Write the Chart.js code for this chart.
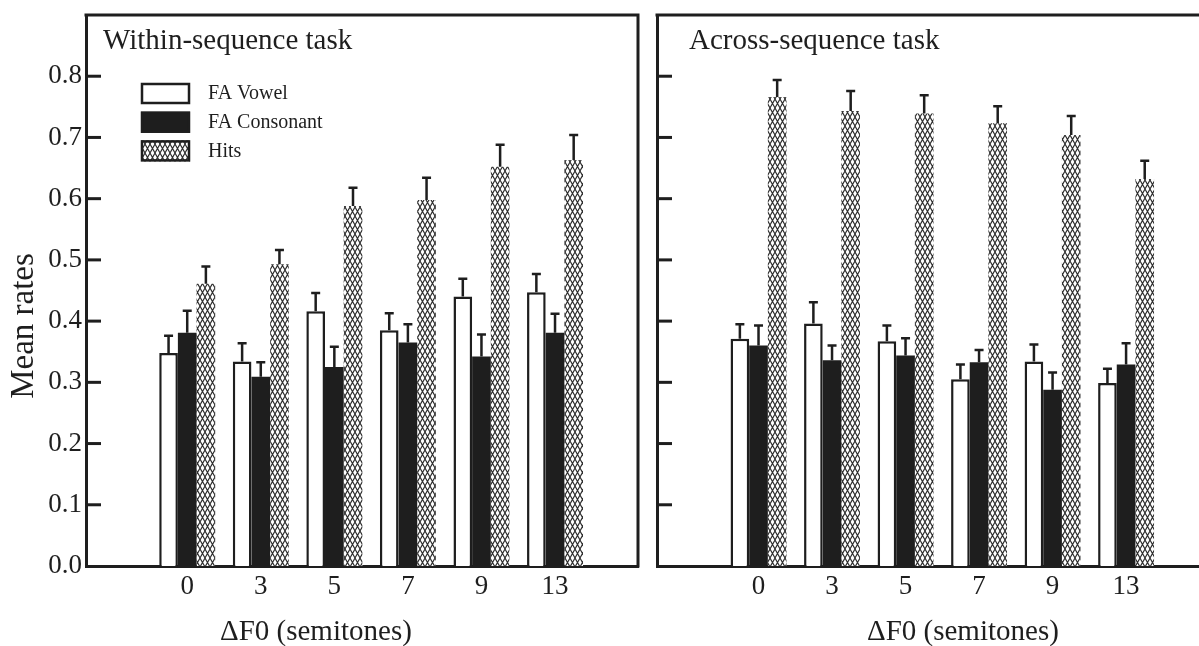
<!DOCTYPE html>
<html>
<head>
<meta charset="utf-8">
<script src="https://cdn.jsdelivr.net/npm/chart.js@4.4.1/dist/chart.umd.min.js"></script>
<style>
html, body { margin: 0; padding: 0; background: #fff; }
body { width: 1199px; height: 646px; overflow: hidden; position: relative; }
#within { position: absolute; left: 0; top: 0; }
#across { position: absolute; left: 645px; top: 0; }
</style>
</head>
<body>
<canvas id="within" width="650" height="646"></canvas>
<canvas id="across" width="580" height="646"></canvas>
<script>
// data
const categories = ['0', '3', '5', '7', '9', '13'];
const yTicks = [0.0, 0.1, 0.2, 0.3, 0.4, 0.5, 0.6, 0.7, 0.8];
const seriesNames = ['FA Vowel', 'FA Consonant', 'Hits'];

// within-sequence task
const withinVowel = [0.348, 0.334, 0.416, 0.385, 0.440, 0.447];
const withinVowelErr = [0.028, 0.030, 0.030, 0.028, 0.029, 0.030];
const withinCons = [0.381, 0.309, 0.325, 0.365, 0.342, 0.381];
const withinConsErr = [0.036, 0.024, 0.033, 0.030, 0.036, 0.031];
const withinHits = [0.461, 0.493, 0.588, 0.598, 0.652, 0.663];
const withinHitsErr = [0.028, 0.023, 0.030, 0.036, 0.036, 0.041];

// across-sequence task
const acrossVowel = [0.371, 0.396, 0.367, 0.305, 0.334, 0.299];
const acrossVowelErr = [0.024, 0.035, 0.026, 0.024, 0.028, 0.023];
const acrossCons = [0.360, 0.336, 0.344, 0.333, 0.288, 0.329];
const acrossConsErr = [0.033, 0.024, 0.028, 0.020, 0.028, 0.035];
const acrossHits = [0.766, 0.743, 0.739, 0.723, 0.704, 0.632];
const acrossHitsErr = [0.028, 0.033, 0.030, 0.028, 0.031, 0.030];

const ink = '#1e1e1e';
const serif = "'Liberation Serif', 'Times New Roman', serif";

// cross-hatch fill for the Hits bars
function makeHatch() {
    const c = document.createElement('canvas');
    c.width = 5; c.height = 9;
    const g = c.getContext('2d');
    g.fillStyle = '#fff';
    g.fillRect(0, 0, 5, 9);
    g.strokeStyle = '#2c2c2c';
    g.lineWidth = 1.1;
    g.beginPath();
    g.moveTo(0, 0); g.lineTo(5, 9);
    g.moveTo(5, 0); g.lineTo(0, 9);
    g.stroke();
    return g.createPattern(c, 'repeat');
}
const hatch = makeHatch();

function points(arr) {
    return arr.map((v, i) => ({ x: i, y: v }));
}

// box frame + inward y ticks
const framePlugin = {
    id: 'frame',
    afterDraw(chart) {
        const ctx = chart.ctx, a = chart.chartArea, ys = chart.scales.y;
        ctx.save();
        ctx.strokeStyle = ink;
        ctx.lineWidth = 3;
        ctx.beginPath();
        ctx.moveTo(a.left - 1.5, a.top);
        ctx.lineTo(a.right, a.top);
        ctx.lineTo(a.right, a.bottom + 1.5);
        ctx.stroke();
        yTicks.forEach(v => {
            if (v === 0) return;
            const y = ys.getPixelForValue(v);
            ctx.beginPath();
            ctx.moveTo(a.left, y);
            ctx.lineTo(a.left + 15, y);
            ctx.stroke();
        });
        ctx.restore();
    }
};

// upper error bars
const errorPlugin = {
    id: 'errbars',
    afterDatasetsDraw(chart) {
        const ctx = chart.ctx, ys = chart.scales.y;
        ctx.save();
        ctx.strokeStyle = ink;
        ctx.lineWidth = 2.5;
        chart.data.datasets.forEach((ds, di) => {
            const meta = chart.getDatasetMeta(di);
            meta.data.forEach((bar, i) => {
                const top = ys.getPixelForValue(ds.data[i].y + ds.errors[i]);
                ctx.beginPath();
                ctx.moveTo(bar.x, bar.y);
                ctx.lineTo(bar.x, top);
                ctx.moveTo(bar.x - 4.5, top);
                ctx.lineTo(bar.x + 4.5, top);
                ctx.stroke();
            });
        });
        ctx.restore();
    }
};

// panel titles, axis titles and legend
const textPlugin = {
    id: 'texts',
    afterDraw(chart) {
        const ctx = chart.ctx, p = chart.options.plugins.texts;
        ctx.save();
        ctx.fillStyle = ink;
        ctx.textBaseline = 'alphabetic';
        ctx.textAlign = 'left';
        ctx.font = '29px ' + serif;
        ctx.fillText(p.title, p.titleX, 49);
        ctx.fillText('\u0394F0 (semitones)', p.xTitleX, 640);
        if (p.yTitle) {
            ctx.save();
            ctx.translate(33, 326);
            ctx.rotate(-Math.PI / 2);
            ctx.textAlign = 'center';
            ctx.font = '33px ' + serif;
            ctx.fillText(p.yTitle, 0, 0);
            ctx.restore();
        }
        if (p.legend) {
            ctx.font = '20px ' + serif;
            ctx.textBaseline = 'middle';
            chart.data.datasets.forEach((ds, i) => {
                const y = 83 + i * 28.7;
                ctx.fillStyle = ds.backgroundColor;
                ctx.fillRect(141, y, 49, 21);
                ctx.strokeStyle = ink;
                ctx.lineWidth = 2.5;
                ctx.strokeRect(142, y + 1, 47, 19);
                ctx.fillStyle = ink;
                ctx.fillText(ds.label, 208, y + 11);
            });
        }
        ctx.restore();
    }
};

function makeChart(id, series, errors, o) {
    const styles = [
        { backgroundColor: '#fff', borderColor: ink, borderWidth: 2.5 },
        { backgroundColor: ink, borderWidth: 0 },
        { backgroundColor: hatch, borderWidth: 0 }
    ];
    return new Chart(document.getElementById(id), {
        type: 'bar',
        data: {
            datasets: series.map((s, i) => Object.assign({
                label: seriesNames[i],
                data: points(s),
                errors: errors[i],
                borderSkipped: 'bottom'
            }, styles[i]))
        },
        options: {
            responsive: false,
            animation: false,
            categoryPercentage: 0.761,
            barPercentage: 1.0,
            layout: { padding: { top: 15, right: o.padRight, left: 0, bottom: 0 } },
            plugins: {
                legend: { display: false },
                tooltip: { enabled: false },
                texts: o.texts
            },
            scales: {
                x: {
                    type: 'linear',
                    min: o.xMin,
                    max: o.xMax,
                    offset: false,
                    grid: { display: false, drawTicks: false },
                    border: { display: true, width: 3, color: ink },
                    afterBuildTicks: s => { s.ticks = categories.map((c, i) => ({ value: i })); },
                    afterFit: s => { s.height = 80; },
                    ticks: {
                        autoSkip: false, maxRotation: 0, padding: 5, color: ink,
                        font: { family: serif, size: 27 },
                        callback: v => categories[v]
                    }
                },
                y: {
                    min: 0,
                    max: 0.9,
                    grid: { display: false, drawTicks: false },
                    border: { display: true, width: 3, color: ink },
                    afterBuildTicks: s => { s.ticks = yTicks.map(v => ({ value: v })); },
                    afterFit: s => { s.width = o.yWidth; },
                    ticks: {
                        display: o.yLabels, padding: 4, color: ink,
                        font: { family: serif, size: 27, lineHeight: 0.8 },
                        callback: v => v.toFixed(1)
                    }
                }
            }
        },
        plugins: [framePlugin, errorPlugin, textPlugin]
    });
}

makeChart('within',
    [withinVowel, withinCons, withinHits],
    [withinVowelErr, withinConsErr, withinHitsErr],
    {
        xMin: -1.376, xMax: 6.128, padRight: 12, yWidth: 86, yLabels: true,
        texts: { title: 'Within-sequence task', titleX: 103, xTitleX: 220, yTitle: 'Mean rates', legend: true }
    });

makeChart('across',
    [acrossVowel, acrossCons, acrossHits],
    [acrossVowelErr, acrossConsErr, acrossHitsErr],
    {
        xMin: -1.381, xMax: 6.128, padRight: 16, yWidth: 12, yLabels: false,
        texts: { title: 'Across-sequence task', titleX: 44, xTitleX: 222, yTitle: null, legend: false }
    });
</script>
</body>
</html>
